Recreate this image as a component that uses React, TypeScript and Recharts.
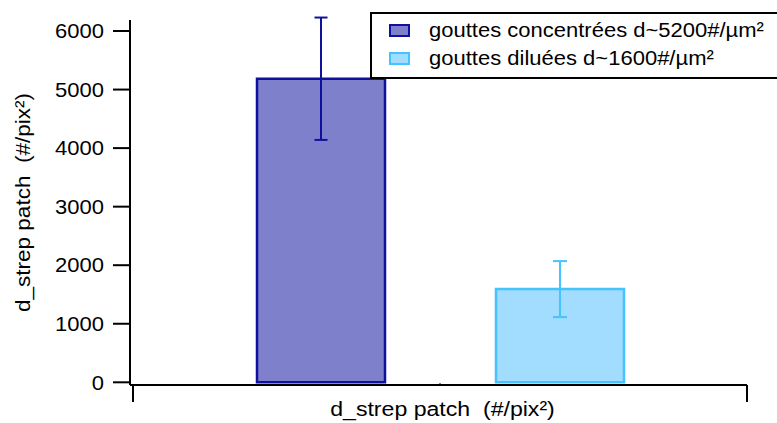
import { Bar, BarChart, ErrorBar, Label, Legend, XAxis, YAxis } from "recharts";

const categories = ["d_strep patch"];
const concentrated = [5185];
const concentratedErr = [1045];
const diluted = [1592];
const dilutedErr = [478];
const yTicks = [0, 1000, 2000, 3000, 4000, 5000, 6000];
const seriesNames = ["gouttes concentrées d~5200#/µm²", "gouttes diluées d~1600#/µm²"];
const axisTitle = "d_strep patch  (#/pix²)";

const data = categories.map((name, i) => ({
  name,
  conc: concentrated[i],
  concErr: concentratedErr[i],
  dil: diluted[i],
  dilErr: dilutedErr[i],
}));

const FONT = "'Liberation Sans', Arial, Helvetica, sans-serif";
const STRETCH = 1.1;

const COLORS = {
  conc: { fill: "#7f80cc", stroke: "#1010a0" },
  dil: { fill: "#a2dcff", stroke: "#45c3ff" },
};

function YTick(props: any) {
  const { x, y, payload } = props;
  return (
    <text
      transform={`translate(${x},${y}) scale(${STRETCH},1)`}
      textAnchor="end"
      dy="0.36em"
      fontSize={20}
      fontFamily={FONT}
      fill="#000"
    >
      {payload.value}
    </text>
  );
}

// Igor-style category axis: long ticks at the band edges, tiny notch at the centre
function BandEdgeTick(props: any) {
  const { x, y, payload } = props;
  const half = payload.offset || 0;
  return (
    <g stroke="#000" strokeWidth={2}>
      <line x1={x - half} y1={y} x2={x - half} y2={y + 17} />
      <line x1={x + half} y1={y} x2={x + half} y2={y + 17} />
      <line x1={x} y1={y} x2={x} y2={y - 2} strokeWidth={1} />
    </g>
  );
}

function YTitle(props: any) {
  const vb = props.viewBox;
  const cx = vb.x + 23;
  const cy = vb.y + vb.height / 2;
  return (
    <text
      transform={`translate(${cx},${cy}) rotate(-90) scale(${STRETCH},1)`}
      textAnchor="middle"
      dy="0.36em"
      fontSize={20.5}
      fontFamily={FONT}
      fill="#000"
      style={{ whiteSpace: "pre" }}
    >
      {axisTitle}
    </text>
  );
}

function XTitle(props: any) {
  const vb = props.viewBox;
  const cx = vb.x + vb.width / 2 + 4;
  const cy = vb.y + 31;
  return (
    <text
      transform={`translate(${cx},${cy}) scale(${STRETCH},1)`}
      textAnchor="middle"
      fontSize={21}
      fontFamily={FONT}
      fill="#000"
      style={{ whiteSpace: "pre" }}
    >
      {axisTitle}
    </text>
  );
}

function LegendBox(props: any) {
  const items = props.payload || [];
  return (
    <div
      style={{
        border: "2px solid #000",
        background: "#fff",
        width: 430,
        height: 61,
        boxSizing: "content-box",
        paddingTop: 2,
        fontFamily: FONT,
      }}
    >
      {items.map((item: any) => {
        const c = COLORS[item.dataKey as "conc" | "dil"];
        return (
          <div key={item.value} style={{ display: "flex", alignItems: "center", height: 28 }}>
            <div
              style={{
                marginLeft: 17,
                width: 17,
                height: 9,
                background: c.fill,
                border: `2.5px solid ${c.stroke}`,
              }}
            />
            <span
              style={{
                marginLeft: 19,
                fontSize: 20,
                color: "#000",
                whiteSpace: "nowrap",
                display: "inline-block",
                transform: `scaleX(${STRETCH})`,
                transformOrigin: "left center",
              }}
            >
              {item.value}
            </span>
          </div>
        );
      })}
    </div>
  );
}

export default function App() {
  return (
    <div style={{ position: "absolute", left: 0, top: 0, background: "#fff" }}>
      <BarChart
        width={777}
        height={423}
        data={data}
        margin={{ top: 20, right: 30, bottom: 0, left: 0 }}
        barSize={128}
        barGap={111}
      >
        <XAxis
          dataKey="name"
          type="category"
          height={38}
          padding={{ left: 3, right: 0 }}
          tickSize={0}
          tickMargin={0}
          tickLine={false}
          tick={<BandEdgeTick />}
          axisLine={{ stroke: "#000", strokeWidth: 2 }}
        >
          <Label content={<XTitle />} />
        </XAxis>
        <YAxis
          width={130}
          domain={[-46, 6188]}
          allowDataOverflow
          ticks={yTicks}
          tickSize={17}
          tickMargin={9}
          tick={<YTick />}
          axisLine={{ stroke: "#000", strokeWidth: 2 }}
          tickLine={{ stroke: "#000", strokeWidth: 2 }}
        >
          <Label content={<YTitle />} />
        </YAxis>
        <Legend
          layout="vertical"
          align="center"
          verticalAlign="middle"
          content={<LegendBox />}
          wrapperStyle={{ left: 370, top: 12, width: 440 }}
        />
        <Bar
          dataKey="conc"
          name={seriesNames[0]}
          fill={COLORS.conc.fill}
          stroke={COLORS.conc.stroke}
          strokeWidth={2.5}
          isAnimationActive={false}
        >
          <ErrorBar dataKey="concErr" width={6.5} stroke={COLORS.conc.stroke} strokeWidth={2} />
        </Bar>
        <Bar
          dataKey="dil"
          name={seriesNames[1]}
          fill={COLORS.dil.fill}
          stroke={COLORS.dil.stroke}
          strokeWidth={2.5}
          isAnimationActive={false}
        >
          <ErrorBar dataKey="dilErr" width={7} stroke={COLORS.dil.stroke} strokeWidth={2} />
        </Bar>
      </BarChart>
    </div>
  );
}
